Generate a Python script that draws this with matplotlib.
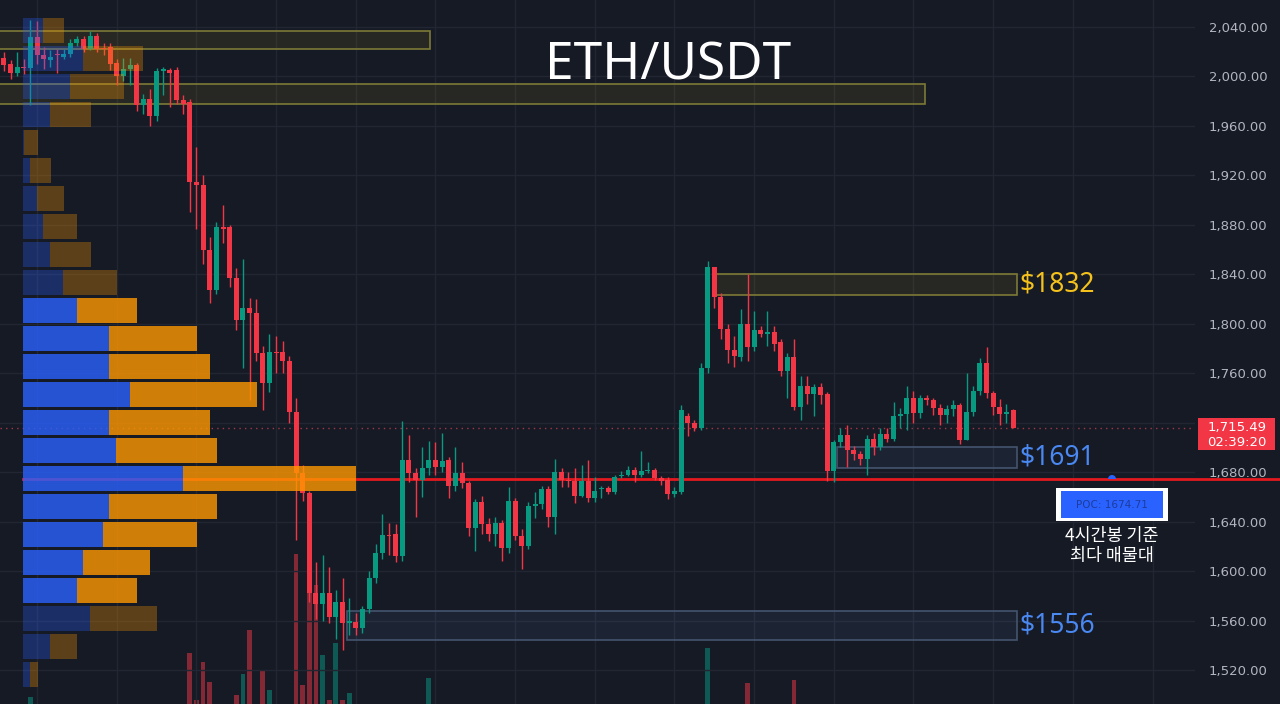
import matplotlib
matplotlib.use('Agg')
import matplotlib.pyplot as plt
from matplotlib.patches import Rectangle, Wedge
from matplotlib.transforms import IdentityTransform

# 4h candles (left -> right)
opens=[2015,2010,2003,2008,2007,2032,2017,2013,2018,2016,
       2018,2027,2030,2022,2033,2023,2024,2011,2000,2006,
       2009,1977,1982,1968,2004,2005,2005,1981,1979,1915,
       1912,1860,1827,1878,1878,1837,1803,1813,1809,1776,
       1752,1777,1777,1770,1729,1679,1663,1582,1573,1582,
       1563,1575,1558,1559,1554,1569,1594,1615,1629,1630,
       1612,1690,1679,1674,1683,1690,1684,1690,1669,1679,
       1671,1635,1656,1638,1630,1639,1619,1657,1628,1620,
       1653,1654,1666,1644,1680,1674,1673,1661,1673,1659,
       1666,1667,1664,1677,1678,1682,1678,1681,1682,1675,
       1674,1662,1664,1725,1720,1716,1764,1846,1822,1796,
       1779,1773,1800,1781,1795,1792,1793,1785,1762,1773,
       1733,1750,1743,1749,1743,1681,1704,1710,1698,1695,
       1691,1707,1700,1711,1707,1725,1727,1740,1728,1740,
       1738,1732,1726,1731,1734,1706,1729,1746,1768,1744,
       1733,1727,1730]
highs=[2020,2013,2020,2014,2046,2045,2024,2021,2022,2022,
       2030,2033,2033,2037,2035,2027,2027,2014,2015,2015,
       2011,1986,1990,2007,2008,2007,2008,1985,1982,1943,
       1920,1870,1882,1896,1880,1845,1852,1821,1820,1782,
       1792,1790,1786,1774,1740,1686,1665,1607,1613,1603,
       1585,1594,1578,1566,1572,1600,1622,1646,1639,1638,
       1721,1710,1683,1700,1705,1704,1712,1692,1700,1688,
       1673,1658,1661,1643,1644,1641,1668,1659,1634,1656,
       1664,1669,1669,1691,1683,1680,1683,1686,1690,1676,
       1669,1669,1678,1681,1685,1684,1697,1688,1683,1677,
       1676,1668,1734,1728,1722,1768,1851,1846,1825,1800,
       1790,1812,1840,1810,1798,1810,1798,1788,1776,1788,
       1758,1758,1751,1752,1745,1706,1716,1718,1701,1697,
       1710,1712,1716,1716,1737,1732,1750,1746,1742,1742,
       1740,1735,1734,1738,1736,1760,1750,1772,1781,1746,
       1739,1735,1731]
lows=[2004,1998,2000,2002,1977,2010,2006,2008,2003,2014,
      2016,2025,2020,2021,2020,2017,2005,1993,1996,1993,
      1972,1970,1960,1964,1985,1975,1978,1970,1890,1877,
      1848,1817,1824,1865,1830,1795,1764,1738,1770,1730,
      1745,1760,1760,1720,1625,1657,1575,1561,1560,1558,
      1545,1536,1548,1548,1550,1566,1590,1610,1613,1607,
      1608,1672,1644,1660,1678,1678,1680,1659,1665,1667,
      1628,1616,1630,1624,1620,1608,1615,1625,1602,1618,
      1643,1650,1636,1630,1668,1668,1655,1660,1656,1656,
      1659,1662,1662,1675,1677,1672,1676,1679,1674,1670,
      1658,1660,1662,1709,1713,1714,1760,1813,1788,1768,
      1765,1770,1770,1778,1789,1782,1778,1758,1740,1730,
      1722,1735,1725,1735,1673,1672,1700,1684,1690,1686,
      1678,1694,1698,1704,1705,1716,1714,1720,1724,1734,
      1726,1718,1720,1725,1703,1706,1725,1742,1740,1726,
      1718,1720,1715.49]
closes=[2009,2003,2008,2007,2032,2017,2014,2016,2017,2018,
        2027,2030,2022,2033,2022,2022,2010,2000,2006,2009,
        1977,1982,1968,2004,2006,2003,1981,1978,1915,1912,
        1860,1827,1878,1877,1837,1803,1813,1809,1776,1752,
        1777,1776,1770,1729,1679,1663,1582,1573,1582,1563,
        1575,1558,1560,1554,1569,1594,1615,1629,1628,1612,
        1690,1679,1674,1683,1690,1684,1689,1669,1679,1671,
        1635,1656,1638,1630,1639,1619,1657,1628,1620,1653,
        1654,1666,1644,1680,1674,1673,1661,1673,1659,1665,
        1667,1664,1676,1678,1682,1678,1681,1682,1675,1673,
        1662,1665,1730,1720,1716,1764,1846,1822,1796,1779,
        1774,1800,1781,1795,1792,1793,1784,1762,1773,1733,
        1750,1743,1749,1742,1681,1704,1710,1698,1695,1691,
        1707,1700,1711,1707,1725,1727,1740,1728,1740,1738,
        1732,1726,1731,1734,1706,1729,1746,1768,1744,1733,
        1727,1729,1715.49]
# volume (arbitrary units, only the tall ones show at the bottom)
vols=[10,8,9,7,27,14,8,7,9,6,
      9,7,8,12,10,6,12,13,9,8,
      18,9,14,16,8,10,12,8,71,24,
      62,42,16,12,18,29,50,94,18,54,
      34,12,10,18,170,39,134,139,69,24,
      81,24,31,20,15,14,16,16,8,12,
      18,10,9,8,46,6,9,10,5,6,
      14,10,9,6,7,9,12,10,8,12,
      6,8,10,14,6,5,7,6,7,5,
      4,5,7,4,5,4,5,4,5,4,
      8,5,18,10,6,14,76,16,14,10,
      8,10,41,8,5,6,7,10,8,44,
      10,7,6,6,19,12,8,9,5,6,
      9,6,6,5,10,5,10,8,7,5,
      5,6,5,5,12,14,9,12,13,8,
      6,5,7]

# volume profile rows (top -> bottom): price, buy vol, sell vol
vp_prices=[2037.11,2014.46,1991.81,1969.16,1946.51,1923.86,1901.21,1878.56,
           1855.91,1833.26,1810.61,1787.96,1765.31,1742.66,1720.01,1697.36,
           1674.71,1652.06,1629.41,1606.76,1584.11,1561.46,1538.81,1516.16]
vp_buy =[20,60,47,27,1,7,14,20,27,40,54,86,86,107,86,93,160,86,80,60,54,67,27,7]
vp_sell=[21,60,54,41,14,21,27,34,41,54,60,88,101,127,101,101,173,108,94,67,60,67,27,8]
VP_ROW=22.65
POC=1674.71
VA_HIGH=1822.0
VA_LOW=1573.0

# zones: start bar, end bar, low, high, colour kind, label
zone_start=[-1,-1,107.3,125.5,51.7]
zone_end=[64.2,138.7,152.6,152.6,152.6]
zone_low=[2022.5,1978.0,1823.5,1683.0,1544.0]
zone_high=[2036.5,1993.5,1840.0,1700.0,1568.0]
zone_kind=['y','y','y','b','b']
zone_label=['','','$1832','$1691','$1556']

price_ticks=[1520,1560,1600,1640,1680,1720,1760,1800,1840,1880,1920,1960,2000,2040]

bg='#161a25'
grid='#222632'
up='#089981'
down='#f23645'

W,H=1280,704
fig=plt.figure(figsize=(W/100,H/100),dpi=100,facecolor=bg)
rect=[0,0,1195/W,1]

def px(x,y):
    return (x,H-y)

# volume bars (bottom layer), zero sits a bit below the picture
axv=fig.add_axes(rect,label='vol')
axv.set_facecolor(bg)
x=list(range(len(closes)))
vcol=[up if c>=o else down for o,c in zip(opens,closes)]
axv.bar(x,vols,width=0.72,color=vcol,alpha=0.5,linewidth=0)
axv.set_ylim(20,724)
axv.set_xlim(-0.59,179.4)
axv.axis('off')

# price axes
ax=fig.add_axes(rect,label='price')
ax.set_facecolor('none')
ax.set_xlim(-0.59,179.4)
ax.set_ylim(1492.5,2061.8)
for s in ax.spines.values(): s.set_visible(False)
ax.set_xticks(range(5,180,12))
ax.set_yticks(price_ticks)
ax.grid(True,color=grid,lw=1)
ax.tick_params(axis='x',length=0,labelbottom=False)
ax.yaxis.tick_right()
ax.tick_params(axis='y',length=0,pad=10,labelcolor='#b2b5be',labelsize=9.5)
ax.set_yticklabels([format(p,',.2f') for p in price_ticks])

# zones
for s,e,lo,hi,k,lab in zip(zone_start,zone_end,zone_low,zone_high,zone_kind,zone_label):
    if k=='y':
        fc,ec,tc=(0.96,0.77,0.09,0.08),'#7d7a36','#f5c21b'
    else:
        fc,ec,tc=(0.35,0.50,0.75,0.10),'#44546e','#4a88f2'
    ax.add_patch(Rectangle((s,lo),e-s,hi-lo,facecolor=fc,edgecolor=ec,lw=1.2,zorder=2))
    if lab:
        ax.text(e+0.4,(lo+hi)/2,lab,color=tc,fontsize=19,family='Noto Sans',
                va='center',ha='left',clip_on=False,zorder=5)

# POC line + current price line
ax.axhline(POC,xmin=23/1195,xmax=W/1195,color='#e3191f',lw=2,clip_on=False,zorder=3)
ax.axhline(closes[-1],color='#a03848',lw=1,ls=(0,(1,3)),zorder=1)

# candles
for i,(o,h,l,c) in enumerate(zip(opens,highs,lows,closes)):
    col=up if c>=o else down
    ax.vlines(i,l,h,color=col,lw=1,zorder=4)
    body=max(abs(c-o),0.9)
    ax.bar(i,body,bottom=min(o,c),width=0.75,color=col,linewidth=0,zorder=4)

# volume profile on top
axp=fig.add_axes(rect,label='vp',sharey=ax)
axp.set_facecolor('none')
axp.set_xlim(-23,1172)
axp.axis('off')
for p,b,sv in zip(vp_prices,vp_buy,vp_sell):
    a=0.8 if VA_LOW<=p<=VA_HIGH else 0.3
    axp.barh(p,b,height=VP_ROW*0.9,color='#2962ff',alpha=a,linewidth=0)
    axp.barh(p,sv,left=b,height=VP_ROW*0.9,color='#ff9800',alpha=a,linewidth=0)

# current price tag on the scale (covers the 1,720.00 label like the original)
fig.add_artist(Rectangle(px(1198,450),77,32,transform=IdentityTransform(),
                         facecolor='#f23645',edgecolor='none',zorder=5))
fig.text(1237/W,1-427/H,format(closes[-1],',.2f'),color='white',fontsize=9.5,
         ha='center',va='center',zorder=6)
fig.text(1237/W,1-442/H,'02:39:20',color='white',fontsize=9.5,
         ha='center',va='center',zorder=6)

# POC label
fig.add_artist(Wedge(px(1112,479),4,0,180,transform=IdentityTransform(),
                     facecolor='#2962ff',zorder=5))
fig.add_artist(Rectangle(px(1056,521),112,33,transform=IdentityTransform(),
                         facecolor='white',edgecolor='none',zorder=5))
fig.add_artist(Rectangle(px(1061,518),102,27,transform=IdentityTransform(),
                         facecolor='#2962ff',edgecolor='none',zorder=6))
fig.text(1112/W,1-505/H,'POC: %.2f'%POC,color='#1d3c9c',fontsize=7.5,
         ha='center',va='center',zorder=7)
fig.text(1112/W,1-536/H,'4시간봉 기준',color='white',fontsize=12.5,
         family=['Noto Sans CJK KR','DejaVu Sans'],ha='center',va='center',zorder=7)
fig.text(1112/W,1-556/H,'최다 매물대',color='white',fontsize=12.5,
         family=['Noto Sans CJK KR','DejaVu Sans'],ha='center',va='center',zorder=7)

fig.text(668/W,1-66/H,'ETH/USDT',color='white',fontsize=37,family='Noto Sans',
         ha='center',va='center',zorder=7)

fig.savefig('out.png',dpi=100,facecolor=bg)
